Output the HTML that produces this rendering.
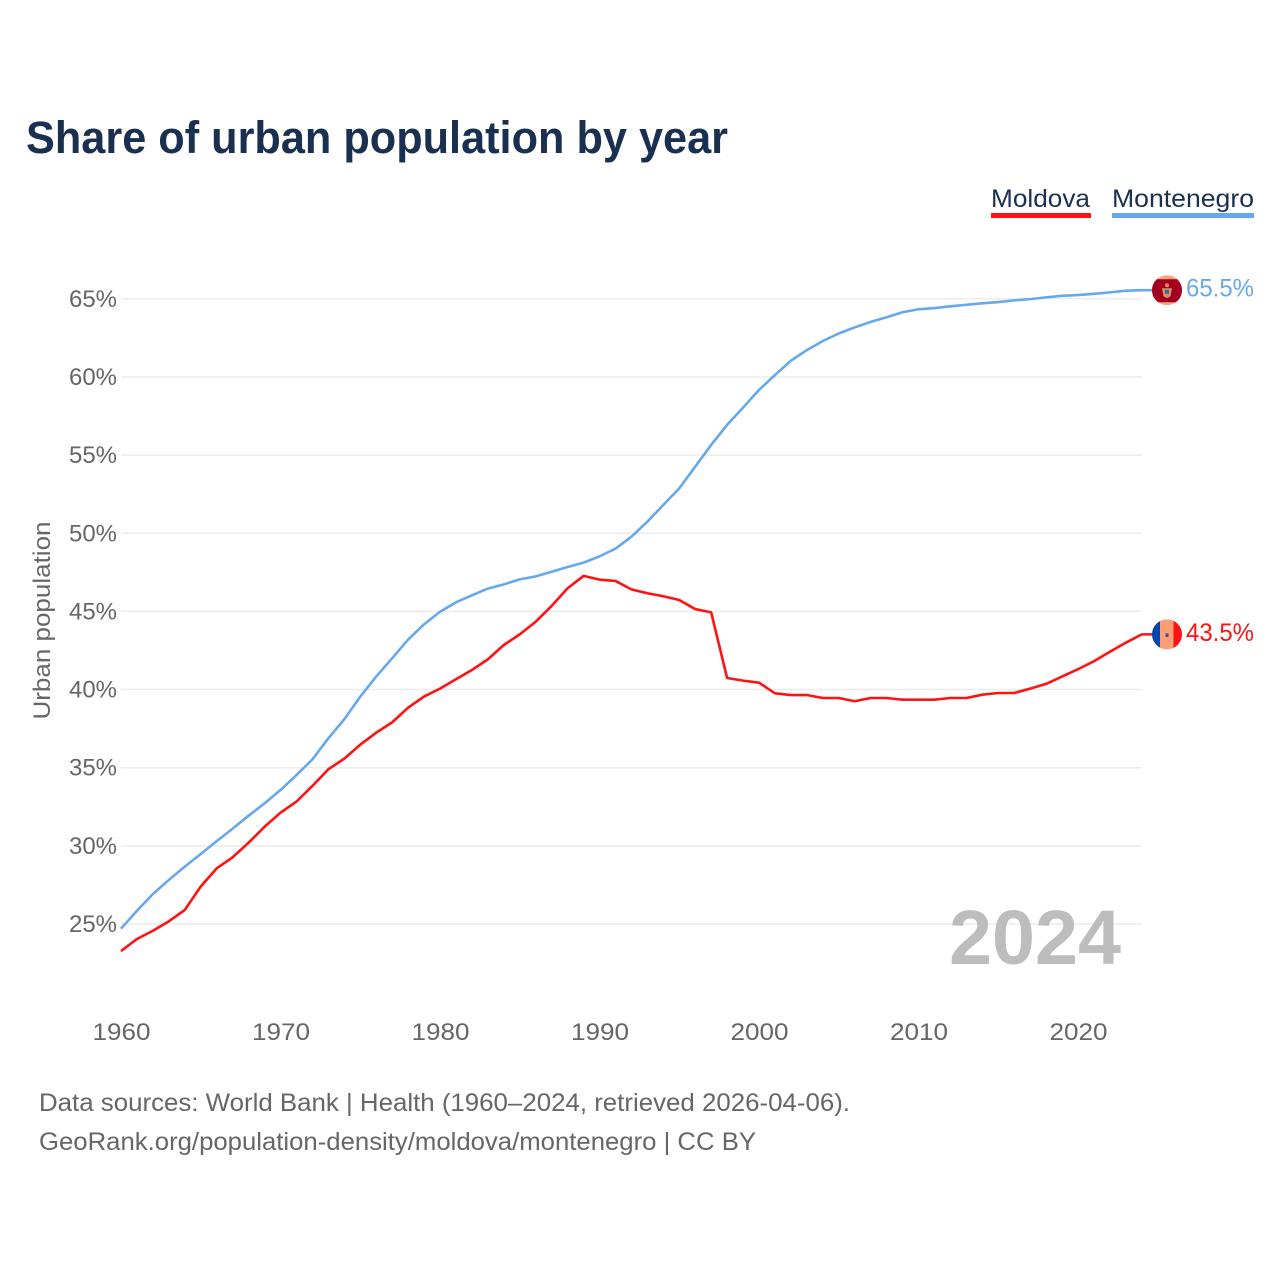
<!DOCTYPE html>
<html lang="en">
<head>
<meta charset="utf-8">
<title>Share of urban population by year</title>
<style>
html,body{margin:0;padding:0;background:#fff;}
svg{display:block;font-family:"Liberation Sans",sans-serif;}
</style>
</head>
<body>
<svg id="chart" width="1280" height="1280" viewBox="0 0 1280 1280" xmlns="http://www.w3.org/2000/svg">
  <defs>
    <clipPath id="flag-clip-montenegro"><circle cx="0" cy="0" r="15"></circle></clipPath>
    <clipPath id="flag-clip-moldova"><circle cx="0" cy="0" r="15"></circle></clipPath>
  </defs>
  <rect x="0" y="0" width="1280" height="1280" fill="#ffffff"></rect>
  <text x="26" y="153" font-size="45" font-weight="700" fill="#1a3050" textLength="702" lengthAdjust="spacingAndGlyphs">Share of urban population by year</text>

  <g>
    <g>
      <text x="991" y="207" font-size="25" fill="#1a3050" textLength="99" lengthAdjust="spacingAndGlyphs">Moldova</text>
      <rect x="991" y="213" width="100" height="5" fill="#ff1212"></rect>
    </g>
    <g>
      <text x="1112" y="207" font-size="25" fill="#1a3050" textLength="142" lengthAdjust="spacingAndGlyphs">Montenegro</text>
      <rect x="1112" y="213" width="142" height="5" fill="#66a8ec"></rect>
    </g>
  </g>

  <g id="grid"></g>
  <g id="y-ticks"></g>
  <g id="x-ticks"></g>
  <text transform="translate(50,620.5) rotate(-90)" text-anchor="middle" font-size="24" fill="#666666" textLength="198" lengthAdjust="spacingAndGlyphs">Urban population</text>
  <text x="949" y="964" font-size="77" font-weight="700" fill="#bdbdbd" textLength="172" lengthAdjust="spacingAndGlyphs">2024</text>

  <g id="series"></g>

  <g id="flag-montenegro">
    <g clip-path="url(#flag-clip-montenegro)">
      <rect x="-15" y="-15" width="30" height="30" fill="#f8a57e"></rect>
      <rect x="-15" y="-11" width="30" height="23" fill="#a3001f"></rect>
      <circle cx="0" cy="-5" r="2" fill="#e2875a"></circle>
      <path d="M-5 -2 L5 -2 L3.5 6 L0 8 L-3.5 6 Z" fill="#d9905f"></path>
      <rect x="-2" y="-0.5" width="4" height="4" fill="#2f6aa8"></rect>
    </g>
  </g>
  <g id="flag-moldova">
    <g clip-path="url(#flag-clip-moldova)">
      <rect x="-15" y="-15" width="8" height="30" fill="#0046ae"></rect>
      <rect x="-7" y="-15" width="13.5" height="30" fill="#fc9d75"></rect>
      <rect x="6.5" y="-15" width="8.5" height="30" fill="#ff1212"></rect>
      <rect x="-1.5" y="-1" width="3" height="3.5" fill="#2f55a8"></rect>
    </g>
  </g>
  <text id="end-label-montenegro" x="1186" font-size="25" fill="#66a8ec" textLength="68" lengthAdjust="spacingAndGlyphs"></text>
  <text id="end-label-moldova" x="1186" font-size="25" fill="#ff1212" textLength="68" lengthAdjust="spacingAndGlyphs"></text>

  <text x="39" y="1111" font-size="25" fill="#666666" textLength="811" lengthAdjust="spacingAndGlyphs">Data sources: World Bank | Health (1960–2024, retrieved 2026-04-06).</text>
  <text x="39" y="1150" font-size="25" fill="#666666" textLength="717" lengthAdjust="spacingAndGlyphs">GeoRank.org/population-density/moldova/montenegro | CC BY</text>
</svg>
<script>
const firstYear = 1960;
const yTickValues = [25, 30, 35, 40, 45, 50, 55, 60, 65];
const xTickValues = [1960, 1970, 1980, 1990, 2000, 2010, 2020];
const moldovaValues = [
  23.27, 24.04, 24.57, 25.17, 25.90, 27.40, 28.56, 29.27, 30.20, 31.22,
  32.12, 32.83, 33.83, 34.90, 35.58, 36.47, 37.24, 37.90, 38.84, 39.55,
  40.06, 40.66, 41.25, 41.93, 42.85, 43.53, 44.34, 45.35, 46.48, 47.27,
  47.03, 46.95, 46.41, 46.16, 45.97, 45.73, 45.15, 44.94, 40.74, 40.57,
  40.44, 39.76, 39.65, 39.65, 39.46, 39.46, 39.25, 39.46, 39.46, 39.35,
  39.35, 39.35, 39.46, 39.46, 39.67, 39.78, 39.78, 40.06, 40.36, 40.83,
  41.30, 41.81, 42.42, 43.00, 43.53
];
const montenegroValues = [
  24.70, 25.85, 26.92, 27.82, 28.67, 29.48, 30.30, 31.10, 31.93, 32.72,
  33.57, 34.53, 35.53, 36.88, 38.10, 39.55, 40.83, 42.00, 43.20, 44.17,
  44.98, 45.58, 46.03, 46.46, 46.73, 47.05, 47.24, 47.54, 47.84, 48.12,
  48.52, 49.01, 49.78, 50.74, 51.81, 52.87, 54.26, 55.65, 56.93, 58.04,
  59.17, 60.12, 61.04, 61.72, 62.30, 62.78, 63.17, 63.52, 63.82, 64.14,
  64.33, 64.41, 64.52, 64.62, 64.71, 64.79, 64.90, 64.98, 65.09, 65.19,
  65.24, 65.32, 65.41, 65.52, 65.55
];

const SVG_NS = 'http://www.w3.org/2000/svg';
const xScale = function (year) { return 121 + (year - 1960) * 15.95; };
const yScale = function (value) { return 924 - (value - 25) * 15.63; };
const flagX = 1167;

const gridGroup = document.getElementById('grid');
const yTickGroup = document.getElementById('y-ticks');
const xTickGroup = document.getElementById('x-ticks');
const seriesGroup = document.getElementById('series');

yTickValues.forEach(function (value) {
  const gridline = document.createElementNS(SVG_NS, 'line');
  
  
  gridline.setAttribute('x1', xScale(1960));
  gridline.setAttribute('x2', xScale(2024));
  gridline.setAttribute('y1', yScale(value));
  gridline.setAttribute('y2', yScale(value));
  gridline.setAttribute('stroke', '#ececec');
  gridline.setAttribute('stroke-width', '1.5');
  gridGroup.appendChild(gridline);

  const label = document.createElementNS(SVG_NS, 'text');
  
  
  label.setAttribute('x', 69);
  label.setAttribute('y', yScale(value) + 8);
  label.setAttribute('font-size', '24');
  label.setAttribute('fill', '#666666');
  label.setAttribute('textLength', '48');
  label.setAttribute('lengthAdjust', 'spacingAndGlyphs');
  label.textContent = value + '%';
  yTickGroup.appendChild(label);
});

xTickValues.forEach(function (year) {
  const label = document.createElementNS(SVG_NS, 'text');
  
  
  label.setAttribute('x', xScale(year) - 28.5);
  label.setAttribute('y', 1040);
  label.setAttribute('font-size', '24');
  label.setAttribute('fill', '#666666');
  label.setAttribute('textLength', '58');
  label.setAttribute('lengthAdjust', 'spacingAndGlyphs');
  label.textContent = String(year);
  xTickGroup.appendChild(label);
});

function drawSeries(values, color, lineName, labelId, flagId) {
  const lastValue = values[values.length - 1];
  const points = values.map(function (value, index) {
    return xScale(firstYear + index).toFixed(2) + ',' + yScale(value).toFixed(2);
  });
  points.push(flagX + ',' + yScale(lastValue).toFixed(2));
  const line = document.createElementNS(SVG_NS, 'polyline');
  
  
  line.setAttribute('points', points.join(' '));
  line.setAttribute('fill', 'none');
  line.setAttribute('stroke', color);
  line.setAttribute('stroke-width', '2.6');
  line.setAttribute('stroke-linejoin', 'round');
  seriesGroup.appendChild(line);

  document.getElementById(flagId).setAttribute('transform', 'translate(' + flagX + ',' + yScale(lastValue) + ')');
  const endLabel = document.getElementById(labelId);
  endLabel.setAttribute('y', yScale(lastValue) + 6.5);
  endLabel.textContent = lastValue.toFixed(1) + '%';
}

drawSeries(montenegroValues, '#66a8ec', 'line-montenegro', 'end-label-montenegro', 'flag-montenegro');
drawSeries(moldovaValues, '#ff1212', 'line-moldova', 'end-label-moldova', 'flag-moldova');
</script>
</body>
</html>
